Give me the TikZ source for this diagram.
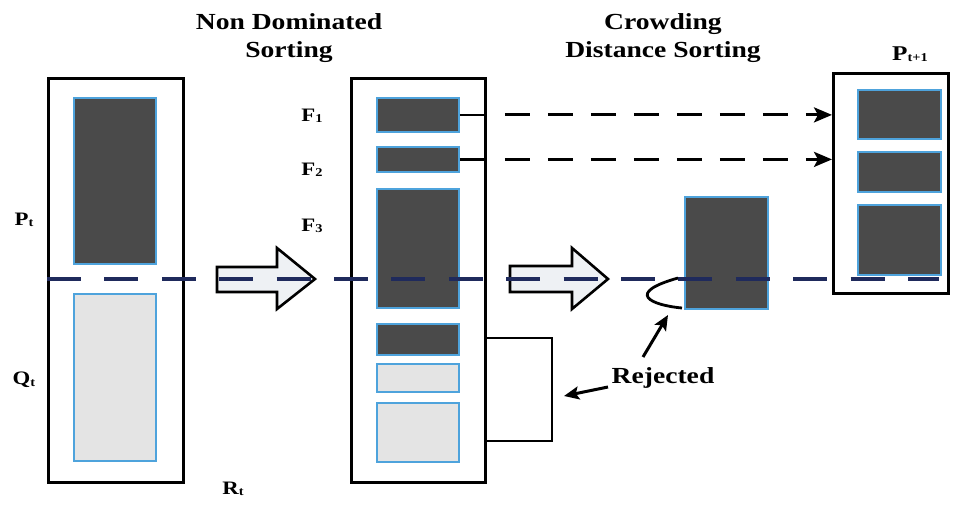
\documentclass[tikz,border=0pt]{standalone}
\usepackage{fontspec}
\setmainfont{Liberation Serif}[FakeStretch=1.2]
\usetikzlibrary{arrows.meta}
\definecolor{navy}{HTML}{1F2A5C}
\definecolor{rimblue}{HTML}{4EA3DC}
\definecolor{darkfill}{HTML}{4A4A4A}
\definecolor{lightfill}{HTML}{E4E4E4}
\definecolor{arrowfill}{HTML}{EEF1F4}
\newcommand\idx[2]{#1{\fontsize{12}{12}\selectfont\raisebox{-1.5pt}{#2}}}
\begin{document}
\begin{tikzpicture}[x=1pt,y=-1pt,
  pool/.style={draw=black,line width=2.8pt,inner sep=0pt,anchor=north west},
  darkset/.style={draw=rimblue,line width=1.8pt,fill=darkfill,inner sep=0pt,anchor=north west},
  paleset/.style={draw=rimblue,line width=1.8pt,fill=lightfill,inner sep=0pt,anchor=north west},
  title/.style={font=\fontsize{23}{28}\selectfont\bfseries,align=center,inner sep=0pt,anchor=north},
  tag/.style={font=\fontsize{19}{20}\selectfont\bfseries,inner sep=0pt},
  blockarrow/.style={draw=black,line width=2.6pt,fill=arrowfill,line join=miter},
  cutline/.style={draw=navy,line width=4.5pt,dash pattern=on 34pt off 23.4pt},
  carry/.style={draw=black,line width=3pt,dash pattern=on 25pt off 18pt,
    -{Stealth[length=18pt,width=15pt,inset=4pt]}},
  pointer/.style={draw=black,line width=3pt,-{Stealth[length=15pt,width=13pt,inset=3pt]}},
  link/.style={draw=black,line width=2.5pt},
]
\useasboundingbox (0,0) rectangle (956,522);

% combined population R_t
\node[pool,minimum width=135pt,minimum height=404pt] (rt) at (47,77) {};
\node[darkset,minimum width=82pt,minimum height=166pt] (pt) at (73,97) {};
\node[paleset,minimum width=82pt,minimum height=167pt] (qt) at (73,293) {};

% fronts after non-dominated sorting
\node[pool,minimum width=134pt,minimum height=404pt] (fr) at (350,77) {};
\node[darkset,minimum width=82pt,minimum height=34pt] (f1) at (376,97) {};
\node[darkset,minimum width=82pt,minimum height=25pt] (f2) at (376,146) {};
\node[darkset,minimum width=82pt,minimum height=119pt] (f3) at (376,188) {};
\node[darkset,minimum width=82pt,minimum height=31pt] (f4) at (376,323) {};
\node[paleset,minimum width=82pt,minimum height=28pt] (f5) at (376,363) {};
\node[paleset,minimum width=82pt,minimum height=59pt] (f6) at (376,402) {};

% front cut by crowding distance
\node[darkset,minimum width=83pt,minimum height=112pt] (cd) at (684,196) {};

% next population P_{t+1}
\node[pool,minimum width=115pt,minimum height=220pt] (pn) at (832,72) {};
\node[darkset,minimum width=83pt,minimum height=49pt] (n1) at (857,89) {};
\node[darkset,minimum width=83pt,minimum height=40pt] (n2) at (857,151) {};
\node[darkset,minimum width=83pt,minimum height=70pt] (n3) at (857,204) {};

% block arrows
\draw[blockarrow] (217,267) -- (277,267) -- (277,248) -- (315,279) -- (277,309)
  -- (277,292) -- (217,292) -- cycle;
\draw[blockarrow] (510,266) -- (572,266) -- (572,248) -- (608,279) -- (572,309)
  -- (572,292) -- (510,292) -- cycle;

% population size cut
\coordinate (cutL) at (47,279);
\coordinate (cutR) at (939,279);
\draw[cutline] (cutL) -- (cutR);

% fronts carried over
\draw[link] (f1.east) -- (f1.east -| fr.east);
\draw[link] (f2.east) -- (f2.east -| fr.east);
\coordinate (c1) at ([xshift=18pt]f1.east -| fr.east);
\coordinate (c2) at ([xshift=18pt]f2.east -| fr.east);
\draw[carry] (c1) -- (c1 -| pn.west);
\draw[carry] (c2) -- (c2 -| pn.west);

% rejected members
\draw[link] (fr.east |- 0,338) -- (552,338) -- (552,441) -- (fr.east |- 0,441);
\coordinate (brk) at (564,396);
\draw[line width=2.8pt] (678,278) .. controls (625,293) and (650,305) .. (682,308);
\coordinate (cusp) at (668,315);

\node[tag,font=\fontsize{23}{24}\selectfont\bfseries] (rej) at (663,378) {Rejected};
\draw[pointer] (643,357) -- (cusp);
\draw[pointer] (608,387) -- (brk);

% labels
\node[title] (t1) at (289,13) {Non Dominated\\Sorting};
\node[title] (t2) at (663,13) {Crowding\\Distance Sorting};
\node[tag] (lf1) at (312,116) {\idx{F}{1}};
\node[tag] (lf2) at (312,170) {\idx{F}{2}};
\node[tag] (lf3) at (312,226) {\idx{F}{3}};
\node[tag] (lpt) at (24,220) {\idx{P}{t}};
\node[tag] (lqt) at (24,380) {\idx{Q}{t}};
\node[tag] (lrt) at (233,489) {\idx{R}{t}};
\node[tag,font=\fontsize{21}{22}\selectfont\bfseries] (lpn) at (910,54) {\idx{P}{t+1}};
\end{tikzpicture}
\end{document}
